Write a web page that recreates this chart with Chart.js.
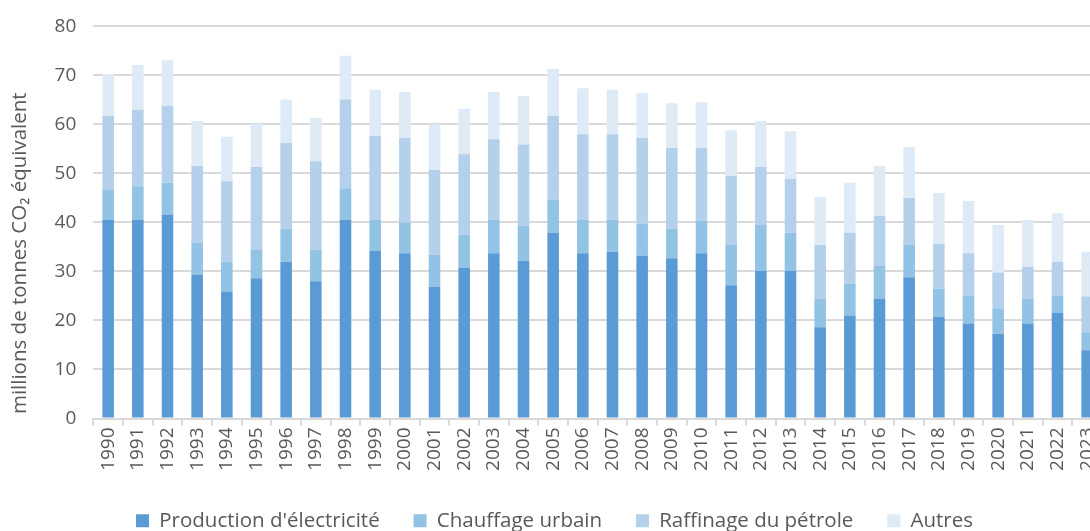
<!DOCTYPE html>
<html>
<head>
<meta charset="utf-8">
<script src="https://cdn.jsdelivr.net/npm/chart.js@4"></script>
<style>
  html, body { margin: 0; padding: 0; background: #fff; overflow: hidden; }
  #wrap { position: relative; width: 1144px; height: 543px; margin-top: -2px; }
</style>
</head>
<body>
<div id="wrap"><canvas id="emissionsChart"></canvas></div>
<script>
// === Données (millions de tonnes CO2 équivalent) ===
const years = ['1990','1991','1992','1993','1994','1995','1996','1997','1998','1999',
               '2000','2001','2002','2003','2004','2005','2006','2007','2008','2009',
               '2010','2011','2012','2013','2014','2015','2016','2017','2018','2019',
               '2020','2021','2022','2023'];
const electricite = [40.5,40.5,41.6,29.3,25.9,28.6,32.0,28.0,40.5,34.3,
                     33.7,26.9,30.7,33.7,32.2,37.9,33.7,34.0,33.2,32.7,
                     33.7,27.2,30.1,30.1,18.6,21.0,24.4,28.8,20.7,19.4,
                     17.3,19.4,21.5,13.9];
const chauffage   = [6.1,6.9,6.5,6.5,6.1,5.9,6.7,6.5,6.5,6.2,
                     6.3,6.5,6.8,6.8,7.1,6.8,6.8,6.5,6.6,6.0,
                     6.6,8.2,9.4,7.8,5.8,6.5,6.7,6.6,5.8,5.7,
                     5.2,5.0,3.6,3.7];
const raffinage   = [15.1,15.6,15.7,15.7,16.4,16.8,17.5,18.0,18.1,17.2,
                     17.3,17.3,16.4,16.5,16.6,17.0,17.5,17.5,17.5,16.5,
                     14.9,14.1,11.8,11.0,11.0,10.4,10.2,9.6,9.1,8.6,
                     7.3,6.5,6.9,7.3];
const autres      = [8.6,9.1,9.3,9.2,9.1,8.8,8.9,8.8,8.9,9.4,
                     9.3,9.3,9.3,9.6,9.9,9.6,9.4,9.1,9.1,9.1,
                     9.3,9.3,9.4,9.7,9.8,10.2,10.2,10.4,10.4,10.7,
                     9.7,9.6,9.9,9.1];

const seriesNames  = ["Production d'électricité", 'Chauffage urbain', 'Raffinage du pétrole', 'Autres'];
const seriesColors = ['#5b9bd5', '#92c3e5', '#b4d0ea', '#deebf7'];
const yTicks = [0, 10, 20, 30, 40, 50, 60, 70, 80];

const textGrey = '#595959';
const gridGrey = '#d9d9d9';
const family = "'Open Sans', 'Noto Sans', sans-serif";
const tickFont = { family, size: 19 };
const bigFont  = { family, size: 20.5 };

const ctx = document.getElementById('emissionsChart').getContext('2d');

new Chart(ctx, {
  type: 'bar',
  data: {
    labels: years,
    datasets: [electricite, chauffage, raffinage, autres].map((d, i) => ({
      label: seriesNames[i],
      data: d,
      backgroundColor: seriesColors[i],
      borderWidth: 0,
      barPercentage: 0.39,
      categoryPercentage: 1
    }))
  },
  options: {
    responsive: true,
    maintainAspectRatio: false,
    animation: false,
    layout: { padding: { top: 8, left: 7, right: 42, bottom: 0 } },
    plugins: {
      tooltip: { enabled: false },
      legend: {
        position: 'bottom',
        labels: {
          color: textGrey,
          font: bigFont,
          boxWidth: 13,
          boxHeight: 13,
          padding: 10,
          // espacement horizontal plus large entre les entrées
          generateLabels: chart => {
            const items = Chart.defaults.plugins.legend.labels.generateLabels(chart);
            items.forEach((it, i) => {
              if (i < items.length - 1) it.text += '\u2003\u2009';
            });
            return items;
          }
        }
      }
    },
    scales: {
      x: {
        stacked: true,
        afterFit: axis => { axis.height = 82; },
        grid: { offset: true, drawOnChartArea: false, drawTicks: true, tickLength: 7, color: gridGrey, lineWidth: 2 },
        border: { display: true, color: gridGrey, width: 2 },
        ticks: { color: textGrey, font: tickFont, minRotation: 90, maxRotation: 90, padding: 2, autoSkip: false }
      },
      y: {
        stacked: true,
        min: 0,
        max: 80,
        afterBuildTicks: axis => { axis.ticks = yTicks.map(v => ({ value: v })); },
        grid: { color: gridGrey, lineWidth: 2, drawTicks: false },
        border: { display: false },
        ticks: { color: textGrey, font: tickFont, padding: 17 },
        title: {
          display: true,
          // espaces finales : le titre est un peu décalé vers le bas
          text: 'millions de tonnes CO₂ équivalent\u2003\u2003\u2003',
          color: textGrey,
          font: bigFont,
          padding: { top: 1, bottom: 5 }
        }
      }
    }
  }
});
</script>
</body>
</html>
